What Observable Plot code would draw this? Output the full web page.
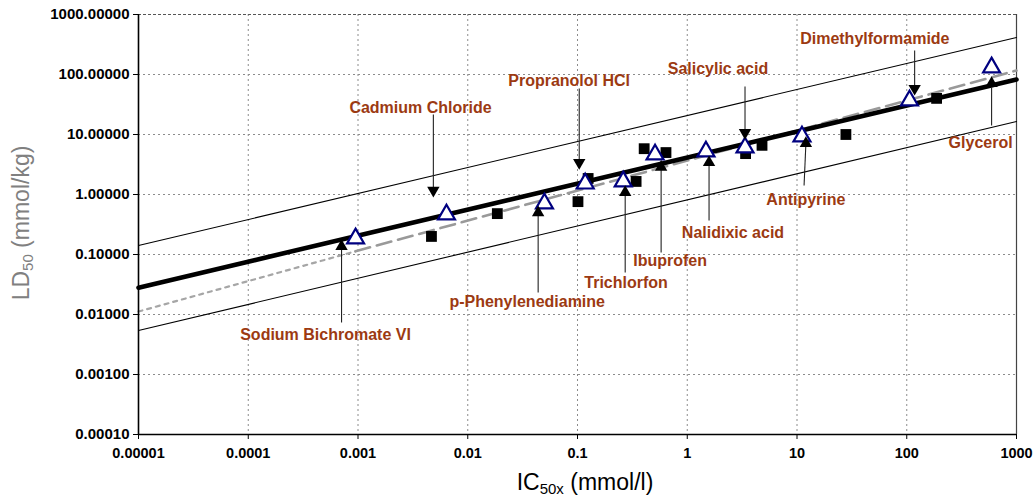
<!DOCTYPE html>
<html>
<head>
<meta charset="utf-8">
<script src="https://cdn.jsdelivr.net/npm/d3@7"></script>
<script src="https://cdn.jsdelivr.net/npm/@observablehq/plot@0.6"></script>
<style>
  html, body { margin: 0; padding: 0; background: #fff; }
  #chart svg { display: block; }
</style>
</head>
<body>
<div id="chart"></div>
<script>
// ---- axis ticks ----
const xTicks = [1e-5, 1e-4, 1e-3, 1e-2, 0.1, 1, 10, 100, 1000];
const xTickLabels = ["0.00001", "0.0001", "0.001", "0.01", "0.1", "1", "10", "100", "1000"];
const yTicks = [1e-4, 1e-3, 0.01, 0.1, 1, 10, 100, 1000];
const yTickLabels = ["0.00010", "0.00100", "0.01000", "0.10000", "1.00000", "10.00000", "100.00000", "1000.00000"];

// ---- compounds (open triangles) ----
const compounds = ["Sodium Bichromate VI", "Cadmium Chloride", "p-Phenylenediamine", "Propranolol HCl",
  "Trichlorfon", "Ibuprofen", "Nalidixic acid", "Salicylic acid", "Antipyrine", "Dimethylformamide", "Glycerol"];
const triIC50 = [0.00095, 0.0064, 0.050, 0.1175, 0.261, 0.509, 1.48, 3.36, 11.1, 106, 593];
const triLD50 = [0.185, 0.464, 0.708, 1.52, 1.65, 4.64, 5.21, 6.07, 9.26, 36.9, 131];

// ---- other data (black squares) ----
const sqIC50 = [0.00467, 0.0186, 0.101, 0.125, 0.342, 0.405, 0.64, 3.4, 4.8, 27.9, 187];
const sqLD50 = [0.20, 0.48, 0.76, 1.85, 1.65, 5.8, 5.0, 4.8, 6.6, 10.0, 40];

// ---- regression lines (end points) ----
const fitIC50 = [0.00001, 1000];
const rcLD50 = [0.028, 82.6];       // thick black regression
const rcUpperLD50 = [0.141, 414];   // upper prediction line
const rcLowerLD50 = [0.0054, 16.5]; // lower prediction line
const newFitDottedIC50 = [0.00001, 0.00095];
const newFitDottedLD50 = [0.0112, 0.113];
const newFitIC50 = [0.00095, 1000];
const newFitLD50 = [0.113, 116.7];

// ---- annotations ----
const labelIC50 = [5.06e-4, 3.71e-3, 0.0348, 0.0839, 0.277, 0.698, 2.61, 1.905, 12.05, 51.2, 471];
const labelLD50 = [0.00464, 28.2, 0.0165, 79.4, 0.0342, 0.0794, 0.233, 126, 0.825, 398, 7.36];
const arrowTailIC50 = [7.08e-4, 4.86e-3, 0.0438, 0.1037, 0.272, 0.578, 1.58, 3.36, 11.6, 118, 593];
const arrowHeadIC50 = [7.08e-4, 4.86e-3, 0.0438, 0.1037, 0.272, 0.578, 1.58, 3.36, 12.05, 118, 593];
const arrowTailLD50 = [0.00736, 21.5, 0.0233, 58.5, 0.0501, 0.108, 0.369, 63.1, 1.41, 251, 14.1];
const arrowHeadLD50 = [0.136, 1.17, 0.50, 3.41, 1.08, 2.85, 3.41, 10.8, 7.08, 58.5, 71];

// ---- build tables ----
const tri = compounds.map((c, i) => ({c, x: triIC50[i], y: triLD50[i]}));
const sq = sqIC50.map((x, i) => ({x, y: sqLD50[i]}));
const pairs = (xs, ys) => xs.map((x, i) => ({x, y: ys[i]}));
const ann = compounds.map((c, i) => ({
  c, lx: labelIC50[i], ly: labelLD50[i],
  x1: arrowTailIC50[i], y1: arrowTailLD50[i],
  x2: arrowHeadIC50[i], y2: arrowHeadLD50[i],
  rot: arrowHeadLD50[i] > arrowTailLD50[i] ? 0 : 180
}));
const xLab = new Map(xTicks.map((t, i) => [t, xTickLabels[i]]));
const yLab = new Map(yTicks.map((t, i) => [t, yTickLabels[i]]));

const plot = Plot.plot({
  width: 1036, height: 500,
  marginLeft: 138, marginRight: 20, marginTop: 14, marginBottom: 66,
  style: {fontFamily: "'Liberation Sans', Arial, sans-serif", fontWeight: "bold", background: "white", color: "black", overflow: "visible"},
  x: {type: "log", domain: [1e-5, 1000]},
  y: {type: "log", domain: [1e-4, 1000]},
  marks: [
    // grid
    Plot.ruleX(xTicks.slice(1, -1), {stroke: "#8c8c8c", strokeWidth: 1, strokeDasharray: "2,3"}),
    Plot.ruleY(yTicks.slice(1, -1), {stroke: "#8c8c8c", strokeWidth: 1, strokeDasharray: "2,3"}),
    Plot.ruleY([1000], {stroke: "#555", strokeWidth: 1.2, strokeDasharray: "3,2"}),
    Plot.ruleX([1000], {stroke: "#444", strokeWidth: 1.2}),
    // lines
    Plot.line(pairs(fitIC50, rcUpperLD50), {x: "x", y: "y", stroke: "black", strokeWidth: 1.1}),
    Plot.line(pairs(fitIC50, rcLowerLD50), {x: "x", y: "y", stroke: "black", strokeWidth: 1.1}),
    Plot.line(pairs(newFitDottedIC50, newFitDottedLD50), {x: "x", y: "y", stroke: "#a6a6a6", strokeWidth: 2.2, strokeDasharray: "4,5"}),
    Plot.line(pairs(newFitIC50, newFitLD50), {x: "x", y: "y", stroke: "#999", strokeWidth: 2.6, strokeDasharray: "15,7"}),
    Plot.line(pairs(fitIC50, rcLD50), {x: "x", y: "y", stroke: "black", strokeWidth: 4.6}),
    // markers
    Plot.dot(sq, {x: "x", y: "y", symbol: "square", r: 6.1, fill: "black", stroke: "none"}),
    Plot.dot(tri, {x: "x", y: "y", symbol: "triangle", r: 6.3, fill: "white", stroke: "#000080", strokeWidth: 2.2}),
    // annotations
    Plot.link(ann, {x1: "x1", y1: "y1", x2: "x2", y2: "y2", stroke: "#222", strokeWidth: 1.1}),
    Plot.dot(ann, {x: "x2", y: "y2", symbol: "triangle", r: 4.6, fill: "black", stroke: "none", rotate: "rot"}),
    Plot.text(ann, {x: "lx", y: "ly", text: "c", fill: "#9c3a12", fontSize: 16, fontWeight: "bold"}),
    // axes
    Plot.axisX({ticks: xTicks, tickFormat: d => xLab.get(d), tickSize: 5, tickPadding: 8, fontSize: 14.5, fontWeight: "bold", label: null, stroke: "black"}),
    Plot.axisY({ticks: yTicks, tickFormat: d => yLab.get(d), tickSize: 5, tickPadding: 4, fontSize: 15, fontWeight: "bold", label: null, stroke: "black"}),
    Plot.ruleX([1e-5], {stroke: "black", strokeWidth: 1.6}),
    Plot.ruleY([1e-4], {stroke: "black", strokeWidth: 1.6})
  ]
});

document.getElementById("chart").appendChild(plot);

// axis titles with subscripts
const svg = d3.select(plot);
const xt = svg.append("text")
  .attr("x", 585).attr("y", 490)
  .attr("text-anchor", "middle")
  .attr("font-family", "'Liberation Sans', Arial, sans-serif")
  .attr("font-size", 23).attr("font-weight", "normal").attr("fill", "black");
xt.append("tspan").text("IC");
xt.append("tspan").attr("font-size", 15).attr("dy", 4).text("50x");
xt.append("tspan").attr("dy", -4).text(" (mmol/l)");

const yt = svg.append("text")
  .attr("transform", "translate(29,223) rotate(-90)")
  .attr("text-anchor", "middle")
  .attr("font-family", "'Liberation Sans', Arial, sans-serif")
  .attr("font-size", 23).attr("font-weight", "normal").attr("fill", "#808080");
yt.append("tspan").text("LD");
yt.append("tspan").attr("font-size", 15).attr("dy", 4).text("50");
yt.append("tspan").attr("dy", -4).text(" (mmol/kg)");
</script>
</body>
</html>
